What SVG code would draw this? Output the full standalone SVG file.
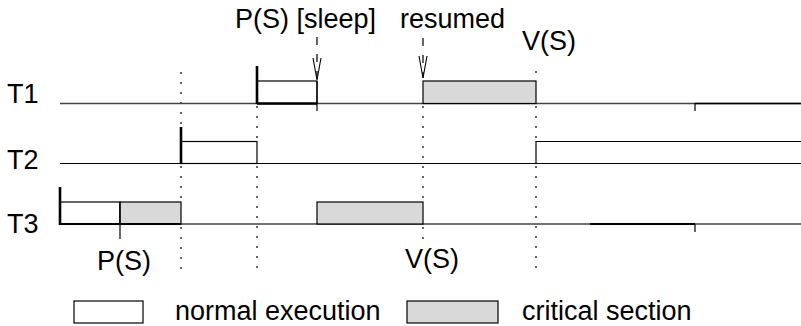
<svg xmlns="http://www.w3.org/2000/svg" width="801" height="326" viewBox="0 0 801 326">
<defs>
<style>
text{font-family:"Liberation Sans",Arial,Helvetica,sans-serif;font-size:27px;fill:#000}
.base{stroke:#444;stroke-width:1.4;fill:none}
.box{fill:#fff;stroke:#000;stroke-width:1.2}
.crit{fill:#d9d9d9;stroke:#000;stroke-width:1.2}
.thick{stroke:#000;stroke-width:2.6;fill:none}
.thin{stroke:#000;stroke-width:1.2;fill:none}
.dot{stroke:#000;stroke-width:1.2;stroke-dasharray:2 8;fill:none}
.dash{stroke:#000;stroke-width:1.2;stroke-dasharray:8 9;fill:none}
</style>
<marker id="vhead" markerWidth="24" markerHeight="12" refX="22" refY="5" orient="auto" markerUnits="userSpaceOnUse" viewBox="0 0 24 12">
<path d="M0,1 L22,5 L0,9" fill="none" stroke="#000" stroke-width="1.1"/>
</marker>
</defs>
<rect width="801" height="326" fill="#fff"/>

<g id="labels">
<text x="7" y="103">T1</text>
<text x="7" y="169">T2</text>
<text x="7" y="233">T3</text>
<text x="235" y="28">P(S) [sleep]</text>
<text x="400" y="28">resumed</text>
<text x="522" y="50">V(S)</text>
<text x="97" y="270">P(S)</text>
<text x="405" y="268">V(S)</text>
</g>

<g id="connectors">
<line class="dot" x1="181" y1="72" x2="181" y2="127"/>
<line class="dot" x1="181" y1="166" x2="181" y2="202"/>
<line class="dot" x1="181" y1="227" x2="181" y2="270"/>
<line class="dot" x1="257" y1="106" x2="257" y2="141"/>
<line class="dot" x1="257" y1="166" x2="257" y2="270"/>
<line class="dot" x1="423" y1="106" x2="423" y2="202"/>
<line class="dot" x1="423" y1="227" x2="423" y2="242"/>
<line class="dot" x1="536" y1="71" x2="536" y2="81"/>
<line class="dot" x1="536" y1="106" x2="536" y2="141"/>
<line class="dot" x1="536" y1="166" x2="536" y2="276"/>
<line class="dash" x1="317" y1="37" x2="317" y2="80" marker-end="url(#vhead)"/>
<line class="dash" x1="423" y1="38" x2="423" y2="78" marker-end="url(#vhead)"/>
</g>

<g id="T1">
<line class="base" x1="60" y1="103.5" x2="801" y2="103.5"/>
<rect class="box" x="257" y="81" width="60" height="22.5"/>
<line class="thick" x1="257" y1="66" x2="257" y2="104"/>
<line class="thick" x1="257" y1="103.5" x2="317" y2="103.5"/>
<line class="thin" x1="317" y1="81" x2="317" y2="111"/>
<rect class="crit" x="423" y="81" width="113" height="22.5"/>
<line class="thin" x1="695" y1="103" x2="695" y2="111"/>
<line class="thick" x1="695" y1="103.5" x2="801" y2="103.5" style="stroke-width:1.6"/>
</g>

<g id="T2">
<line class="thin" x1="60" y1="163.5" x2="801" y2="163.5"/>
<rect class="box" x="181" y="141.5" width="76" height="22"/>
<line class="thick" x1="181" y1="127" x2="181" y2="164"/>
<path class="thin" d="M536,164 V141.5 H801"/>
</g>

<g id="T3">
<line class="base" x1="60" y1="224" x2="801" y2="224"/>
<rect class="box" x="60" y="202" width="60" height="22"/>
<rect class="crit" x="120" y="202" width="61" height="22"/>
<line class="thick" x1="60" y1="187" x2="60" y2="225"/>
<line class="thick" x1="60" y1="224" x2="181" y2="224" style="stroke-width:1.8"/>
<line class="thin" x1="120" y1="202" x2="120" y2="239"/>
<rect class="crit" x="317" y="202" width="106" height="22"/>
<line class="thick" x1="590" y1="224" x2="695" y2="224" style="stroke-width:1.8"/>
<line class="thin" x1="695" y1="224" x2="695" y2="232"/>
</g>

<g id="legend-normal">
<rect class="box" x="74" y="301" width="69" height="22"/>
<text x="175" y="320">normal execution</text>
</g>
<g id="legend-critical">
<rect class="crit" x="407" y="301" width="91" height="22"/>
<text x="522" y="320">critical section</text>
</g>
</svg>
